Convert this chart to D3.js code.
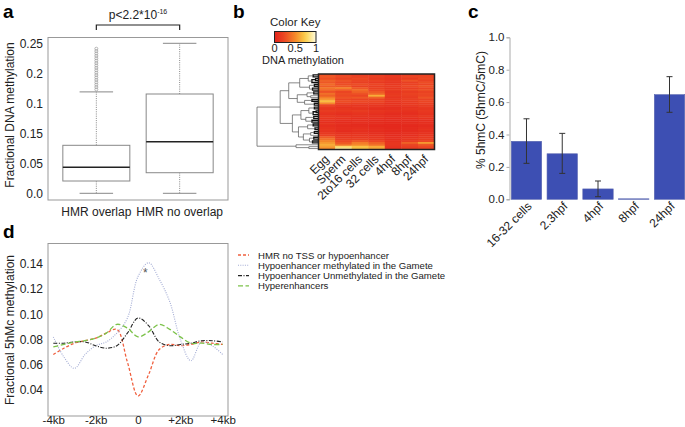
<!DOCTYPE html>
<html>
<head>
<meta charset="utf-8">
<script src="https://cdn.jsdelivr.net/npm/d3@7"></script>
<style>
body { margin: 0; background: #fff; }
text { font-family: "Liberation Sans", Arial, sans-serif; }
</style>
</head>
<body>
<script>
// panel a - boxplot
var boxCategories = ["HMR overlap", "HMR no overlap"];
var boxLow = [0, 0];
var boxQ1 = [0.0205, 0.0343];
var boxMedian = [0.0433, 0.086];
var boxQ3 = [0.080, 0.1655];
var boxHigh = [0.169, 0.25];
var boxOutliers = [0.173, 0.177, 0.181, 0.185, 0.189, 0.193, 0.197, 0.201, 0.205, 0.209, 0.213, 0.217, 0.221, 0.225, 0.229, 0.233, 0.237, 0.241];
var boxTickValues = [0, 0.05, 0.1, 0.15, 0.2, 0.25];
var boxTickLabels = ["0.0", "0.05", "0.15", "0.1", "0.2", "0.25"];

// panel b - heatmap
var heatColumns = ["Egg", "Sperm", "2to16 cells", "32 cells", "4hpf", "8hpf", "24hpf"];
var heatRows = [
  [0.28, 0.22, 0.18, 0.16, 0.12, 0.18, 0.20],
  [0.30, 0.25, 0.20, 0.18, 0.14, 0.22, 0.22],
  [0.26, 0.20, 0.24, 0.15, 0.12, 0.16, 0.24],
  [0.34, 0.28, 0.22, 0.20, 0.15, 0.28, 0.20],
  [0.30, 0.24, 0.18, 0.14, 0.12, 0.18, 0.26],
  [0.38, 0.26, 0.26, 0.22, 0.14, 0.20, 0.22],
  [0.32, 0.30, 0.20, 0.18, 0.16, 0.24, 0.28],
  [0.42, 0.46, 0.30, 0.20, 0.14, 0.18, 0.22],
  [0.36, 0.32, 0.38, 0.24, 0.16, 0.22, 0.26],
  [0.28, 0.22, 0.34, 0.30, 0.12, 0.16, 0.20],
  [0.40, 0.26, 0.28, 0.36, 0.14, 0.20, 0.24],
  [0.34, 0.24, 0.22, 0.62, 0.16, 0.18, 0.22],
  [0.46, 0.28, 0.30, 0.34, 0.12, 0.16, 0.28],
  [0.55, 0.22, 0.20, 0.20, 0.14, 0.18, 0.20],
  [0.68, 0.26, 0.24, 0.22, 0.12, 0.16, 0.22],
  [0.50, 0.20, 0.18, 0.16, 0.10, 0.14, 0.18],
  [0.22, 0.14, 0.12, 0.12, 0.10, 0.14, 0.16],
  [0.14, 0.10, 0.12, 0.10, 0.08, 0.10, 0.14],
  [0.12, 0.12, 0.10, 0.08, 0.08, 0.12, 0.12],
  [0.16, 0.14, 0.16, 0.12, 0.10, 0.10, 0.14],
  [0.12, 0.10, 0.12, 0.10, 0.08, 0.08, 0.12],
  [0.10, 0.08, 0.10, 0.08, 0.06, 0.08, 0.10],
  [0.14, 0.12, 0.10, 0.10, 0.08, 0.10, 0.14],
  [0.12, 0.10, 0.08, 0.08, 0.06, 0.08, 0.10],
  [0.10, 0.08, 0.08, 0.06, 0.06, 0.06, 0.08],
  [0.08, 0.06, 0.08, 0.06, 0.04, 0.06, 0.08],
  [0.10, 0.08, 0.06, 0.06, 0.04, 0.06, 0.08],
  [0.08, 0.06, 0.06, 0.04, 0.04, 0.04, 0.06],
  [0.10, 0.08, 0.08, 0.06, 0.04, 0.06, 0.08],
  [0.12, 0.08, 0.10, 0.08, 0.06, 0.06, 0.10],
  [0.10, 0.06, 0.08, 0.06, 0.04, 0.06, 0.08],
  [0.14, 0.10, 0.10, 0.08, 0.06, 0.08, 0.10],
  [0.18, 0.12, 0.12, 0.10, 0.06, 0.08, 0.12],
  [0.32, 0.14, 0.14, 0.12, 0.08, 0.10, 0.14],
  [0.40, 0.18, 0.18, 0.14, 0.08, 0.12, 0.16],
  [0.48, 0.24, 0.30, 0.22, 0.10, 0.16, 0.20],
  [0.55, 0.30, 0.45, 0.34, 0.12, 0.34, 0.55],
  [0.62, 0.40, 0.50, 0.40, 0.12, 0.22, 0.30],
  [0.58, 0.80, 0.70, 0.62, 0.10, 0.18, 0.24],
  [0.50, 0.88, 0.68, 0.60, 0.10, 0.16, 0.20]
];
// [height, left, right], leaves are row indexes
var dendro = [1.0,
  [0.62,
    [0.48,
      [0.30, [0.16, [0.08, 0, 1], [0.10, [0.04, 2, 3], 4]], [0.14, [0.06, 5, 6], [0.09, 7, 8]]],
      [0.34, [0.18, [0.07, 9, 10], [0.12, 11, 12]], [0.22, [0.10, 13, 14], [0.06, 15, 16]]]
    ],
    [0.42,
      [0.28, [0.15, [0.06, 17, 18], [0.08, [0.03, 19, 20], 21]], [0.20, [0.07, 22, 23], [0.10, 24, 25]]],
      [0.32, [0.17, [0.08, 26, 27], [0.05, 28, 29]], [0.24, [0.12, [0.06, 30, 31], 32], [0.14, [0.07, 33, 34], [0.09, 35, 36]]]]
    ]
  ],
  [0.36, 37, [0.15, 38, 39]]
];
var keyTicks = ["0", "0.5", "1"];

// panel c - bars
var hmcStages = ["16-32 cells", "2.3hpf", "4hpf", "8hpf", "24hpf"];
var hmcMean = [0.358, 0.281, 0.064, 0.003, 0.646];
var hmcLow = [0.222, 0.160, 0.016, null, 0.537];
var hmcHigh = [0.497, 0.407, 0.113, null, 0.757];

// panel d - profiles
var profileKb = [-4, -3.5, -3, -2.5, -2, -1.5, -1, -0.5, 0, 0.5, 1, 1.5, 2, 2.5, 3, 3.5, 4];
var profileNames = ["HMR no TSS or hypoenhancer", "Hypoenhancer methylated in the Gamete", "Hypoenhancer Unmethylated in the Gamete", "Hyperenhancers"];
var hmrNoTss =   [0.068, 0.073, 0.077, 0.079, 0.081, 0.085, 0.088, 0.062, 0.035, 0.052, 0.072, 0.076, 0.075, 0.076, 0.078, 0.077, 0.076];
var hypoMeth =   [0.082, 0.066, 0.057, 0.068, 0.075, 0.078, 0.085, 0.097, 0.130, 0.141, 0.128, 0.110, 0.080, 0.063, 0.078, 0.075, 0.068];
var hypoUnmeth = [0.077, 0.077, 0.078, 0.078, 0.075, 0.073, 0.075, 0.085, 0.097, 0.091, 0.078, 0.075, 0.076, 0.077, 0.079, 0.079, 0.078];
var hyperEnh =   [0.074, 0.076, 0.078, 0.079, 0.081, 0.085, 0.092, 0.089, 0.082, 0.086, 0.092, 0.088, 0.082, 0.077, 0.077, 0.076, 0.076];
var profileTicks = [-4, -2, 0, 2, 4];
var profileTickLabels = ["-4kb", "-2kb", "0", "+2kb", "+4kb"];

var svgWidth = 685;
var svgHeight = 427;
var svg = d3.select("body").append("svg")
    .attr("width", svgWidth)
    .attr("height", svgHeight);

function panelLabel(t, x, y) {
    svg.append("text").attr("x", x).attr("y", y)
        .attr("font-size", 19).attr("font-weight", "bold").text(t);
}
panelLabel("a", 3, 17.5);
panelLabel("b", 233, 17.5);
panelLabel("c", 468, 18);
panelLabel("d", 3, 238);

//////////////////////////////
// a
//////////////////////////////
var xA = d3.scalePoint().domain(boxCategories).range([48, 228]).padding(0.58);
var yA = d3.scaleLinear().domain([0, 0.25]).range([193.3, 43.3]);
var boxW = 67;

svg.append("rect").attr("x", 48).attr("y", 37.5).attr("width", 180).attr("height", 162.5)
    .attr("fill", "none").attr("stroke", "#999").attr("stroke-width", 1);

var aAxis = svg.append("g").attr("transform", "translate(46,0)")
    .call(d3.axisLeft(yA).tickValues(boxTickValues).tickSize(0).tickPadding(3)
        .tickFormat(function(d, i) { return boxTickLabels[i]; }));
aAxis.select(".domain").remove();
aAxis.selectAll("text").attr("font-size", 12).attr("fill", "#222")
    .style("font-family", "Liberation Sans, Arial, sans-serif");

boxCategories.forEach(function(c, i) {
    var cx = xA(c);
    svg.append("line").attr("x1", cx).attr("x2", cx).attr("y1", yA(boxLow[i])).attr("y2", yA(boxQ1[i]))
        .attr("stroke", "#888").attr("stroke-dasharray", "1,1.2");
    svg.append("line").attr("x1", cx).attr("x2", cx).attr("y1", yA(boxQ3[i])).attr("y2", yA(boxHigh[i]))
        .attr("stroke", "#888").attr("stroke-dasharray", "1,1.2");
    [boxLow[i], boxHigh[i]].forEach(function(v) {
        svg.append("line").attr("x1", cx - boxW / 4).attr("x2", cx + boxW / 4)
            .attr("y1", yA(v)).attr("y2", yA(v)).attr("stroke", "#888").attr("stroke-width", 1);
    });
    svg.append("rect").attr("x", cx - boxW / 2).attr("y", yA(boxQ3[i]))
        .attr("width", boxW).attr("height", yA(boxQ1[i]) - yA(boxQ3[i]))
        .attr("fill", "none").attr("stroke", "#888").attr("stroke-width", 1);
    svg.append("line").attr("x1", cx - boxW / 2).attr("x2", cx + boxW / 2)
        .attr("y1", yA(boxMedian[i])).attr("y2", yA(boxMedian[i]))
        .attr("stroke", "#222").attr("stroke-width", 1.6);
    svg.append("text").attr("x", cx).attr("y", 216).attr("text-anchor", "middle")
        .attr("font-size", 12).attr("fill", "#222").text(c);
});
svg.selectAll(".outlier").data(boxOutliers).enter().append("circle")
    .attr("class", "outlier")
    .attr("cx", xA(boxCategories[0])).attr("cy", function(d) { return yA(d); })
    .attr("r", 1.5).attr("fill", "none").attr("stroke", "#999").attr("stroke-width", 0.7);

svg.append("text").attr("transform", "translate(14,115) rotate(-90)").attr("text-anchor", "middle")
    .attr("font-size", 12).attr("fill", "#222").text("Fractional DNA methylation");

// p value bracket
var bx1 = xA(boxCategories[0]), bx2 = xA(boxCategories[1]);
svg.append("path").attr("d", "M" + bx1 + ",30V25H" + bx2 + "V30")
    .attr("fill", "none").attr("stroke", "#222").attr("stroke-width", 1.2);
var pText = svg.append("text").attr("x", (bx1 + bx2) / 2).attr("y", 19).attr("text-anchor", "middle")
    .attr("font-size", 12).attr("fill", "#222");
pText.append("tspan").text("p<2.2*10");
pText.append("tspan").attr("font-size", 7).attr("dy", -5).text("-16");

//////////////////////////////
// b
//////////////////////////////
var heatColor = d3.scaleLinear()
    .domain([0, 0.25, 0.5, 0.75, 1])
    .range(["#e2231c", "#ec4a24", "#f5892a", "#fbd24a", "#fffbe0"]);
var xB = d3.scaleBand().domain(d3.range(heatColumns.length)).range([318.5, 434.5]);
var yB = d3.scaleBand().domain(d3.range(heatRows.length)).range([74, 149.5]);

heatRows.forEach(function(row, r) {
    row.forEach(function(v, c) {
        svg.append("rect").attr("x", xB(c)).attr("y", yB(r))
            .attr("width", xB.bandwidth() + 0.4).attr("height", yB.bandwidth() + 0.4)
            .attr("fill", heatColor(v));
    });
});
svg.append("rect").attr("x", 318.5).attr("y", 74).attr("width", 116).attr("height", 75.5)
    .attr("fill", "none").attr("stroke", "#222").attr("stroke-width", 1.5);

heatColumns.forEach(function(c, i) {
    svg.append("text")
        .attr("transform", "translate(" + (xB(i) + xB.bandwidth() / 2 + 3) + ",160) rotate(-45)")
        .attr("text-anchor", "end").attr("font-size", 12).attr("fill", "#222").text(c);
});

// dendrogram
var xDen = d3.scaleLinear().domain([0, 1]).range([318, 257]);
var denG = svg.append("g").attr("fill", "none");
function drawNode(node) {
    if (typeof node === "number") {
        return { x: xDen(0), y: yB(node) + yB.bandwidth() / 2 };
    }
    var a = drawNode(node[1]);
    var b = drawNode(node[2]);
    var x = xDen(node[0]);
    denG.append("path").attr("d", "M" + a.x + "," + a.y + "H" + x + "V" + b.y + "H" + b.x)
        .attr("stroke", node[0] < 0.11 ? "#111" : "#555")
        .attr("stroke-width", node[0] < 0.11 ? 1.3 : 0.7);
    return { x: x, y: (a.y + b.y) / 2 };
}
drawNode(dendro);

// color key
var grad = svg.append("defs").append("linearGradient").attr("id", "keyGrad");
d3.range(0, 1.01, 0.1).forEach(function(t) {
    grad.append("stop").attr("offset", t).attr("stop-color", heatColor(t));
});
var xKey = d3.scaleLinear().domain([0, 1]).range([274.5, 316]);
svg.append("text").attr("x", 270).attr("y", 26).attr("font-size", 11.5).attr("fill", "#222").text("Color Key");
svg.append("rect").attr("x", 274.5).attr("y", 31.5).attr("width", 41.5).attr("height", 11)
    .attr("fill", "url(#keyGrad)").attr("stroke", "#222").attr("stroke-width", 1);
keyTicks.forEach(function(t) {
    svg.append("text").attr("x", xKey(+t)).attr("y", 52).attr("text-anchor", "middle")
        .attr("font-size", 11).attr("fill", "#222").text(t);
});
svg.append("text").attr("x", 262).attr("y", 64).attr("font-size", 11).attr("fill", "#222").text("DNA methylation");

//////////////////////////////
// c
//////////////////////////////
var xC = d3.scaleBand().domain(hmcStages).range([509.5, 686.5]).paddingInner(0.15).paddingOuter(0.05);
var yC = d3.scaleLinear().domain([0, 1]).range([199.3, 37.3]);

svg.selectAll(".bar").data(hmcStages).enter().append("rect")
    .attr("class", "bar")
    .attr("x", function(d) { return xC(d); })
    .attr("y", function(d, i) { return yC(hmcMean[i]); })
    .attr("width", xC.bandwidth())
    .attr("height", function(d, i) { return yC(0) - yC(hmcMean[i]); })
    .attr("fill", "#3d4fb3").attr("stroke", "#5a66b0").attr("stroke-width", 0.6);

hmcStages.forEach(function(s, i) {
    if (hmcLow[i] === null) return;
    var cx = xC(s) + xC.bandwidth() / 2;
    var g = svg.append("g").attr("stroke", "#333").attr("stroke-width", 1);
    g.append("line").attr("x1", cx).attr("x2", cx).attr("y1", yC(hmcLow[i])).attr("y2", yC(hmcHigh[i]));
    g.append("line").attr("x1", cx - 3).attr("x2", cx + 3).attr("y1", yC(hmcLow[i])).attr("y2", yC(hmcLow[i]));
    g.append("line").attr("x1", cx - 3).attr("x2", cx + 3).attr("y1", yC(hmcHigh[i])).attr("y2", yC(hmcHigh[i]));
});

var cAxis = svg.append("g").attr("transform", "translate(509.5,0)")
    .call(d3.axisLeft(yC).tickValues([0, 0.2, 0.4, 0.6, 0.8, 1.0]).tickFormat(d3.format(".1f")).tickSize(3).tickPadding(2));
cAxis.select(".domain").attr("stroke", "#aaa");
cAxis.selectAll(".tick line").attr("stroke", "#aaa");
cAxis.selectAll("text").attr("font-size", 11.5).attr("fill", "#222")
    .style("font-family", "Liberation Sans, Arial, sans-serif");

hmcStages.forEach(function(s) {
    svg.append("text")
        .attr("transform", "translate(" + (xC(s) + xC.bandwidth() / 2 + 6) + ",207) rotate(-45)")
        .attr("text-anchor", "end").attr("font-size", 12).attr("fill", "#222").text(s);
});
svg.append("text").attr("transform", "translate(485,110) rotate(-90)").attr("text-anchor", "middle")
    .attr("font-size", 12).attr("fill", "#222").text("% 5hmC (5hmC/5mC)");

//////////////////////////////
// d
//////////////////////////////
var xD = d3.scaleLinear().domain([-4, 4]).range([53.3, 222.7]);
var yD = d3.scaleLinear().domain([0.04, 0.14]).range([389.7, 264]);

svg.append("rect").attr("x", 48).attr("y", 243.5).attr("width", 180).attr("height", 172.5)
    .attr("fill", "none").attr("stroke", "#999").attr("stroke-width", 1);

var dYAxis = svg.append("g").attr("transform", "translate(46,0)")
    .call(d3.axisLeft(yD).tickValues([0.04, 0.06, 0.08, 0.10, 0.12, 0.14]).tickFormat(d3.format(".2f")).tickSize(0).tickPadding(3));
dYAxis.select(".domain").remove();
dYAxis.selectAll("text").attr("font-size", 12).attr("fill", "#222")
    .style("font-family", "Liberation Sans, Arial, sans-serif");

var dXAxis = svg.append("g").attr("transform", "translate(0,416)")
    .call(d3.axisBottom(xD).tickValues(profileTicks).tickSize(0).tickPadding(0)
        .tickFormat(function(d, i) { return profileTickLabels[i]; }));
dXAxis.select(".domain").remove();
dXAxis.selectAll("text").attr("font-size", 11.5).attr("fill", "#222")
    .style("font-family", "Liberation Sans, Arial, sans-serif");

svg.append("text").attr("transform", "translate(14,330) rotate(-90)").attr("text-anchor", "middle")
    .attr("font-size", 12).attr("fill", "#222").text("Fractional 5hMc methylation");

var profiles = [hmrNoTss, hypoMeth, hypoUnmeth, hyperEnh];
var profileColors = ["#f0603f", "#a3acd4", "#222", "#7cc24a"];
var profileDash = ["3,2", "1,1.3", "4,1.5,1,1.5", "5,2.5"];
var profileWidth = [1.3, 1.1, 1.1, 1.3];
var line = d3.line()
    .x(function(d, i) { return xD(profileKb[i]); })
    .y(function(d) { return yD(d); })
    .curve(d3.curveCatmullRom.alpha(0.5));

profiles.forEach(function(p, k) {
    svg.append("path").attr("d", line(p)).attr("fill", "none")
        .attr("stroke", profileColors[k]).attr("stroke-width", profileWidth[k])
        .attr("stroke-dasharray", profileDash[k]);
});
svg.append("text").attr("x", xD(0.35)).attr("y", 277).attr("text-anchor", "middle")
    .attr("font-size", 12).attr("fill", "#555").text("*");

// legend
profileNames.forEach(function(n, k) {
    var ly = 255 + k * 10.3;
    svg.append("line").attr("x1", 238).attr("x2", 249).attr("y1", ly).attr("y2", ly)
        .attr("stroke", profileColors[k]).attr("stroke-width", profileWidth[k])
        .attr("stroke-dasharray", profileDash[k]);
    svg.append("text").attr("x", 258).attr("y", ly + 3.5).attr("font-size", 9.6).attr("fill", "#222").text(n);
});
</script>
</body>
</html>
